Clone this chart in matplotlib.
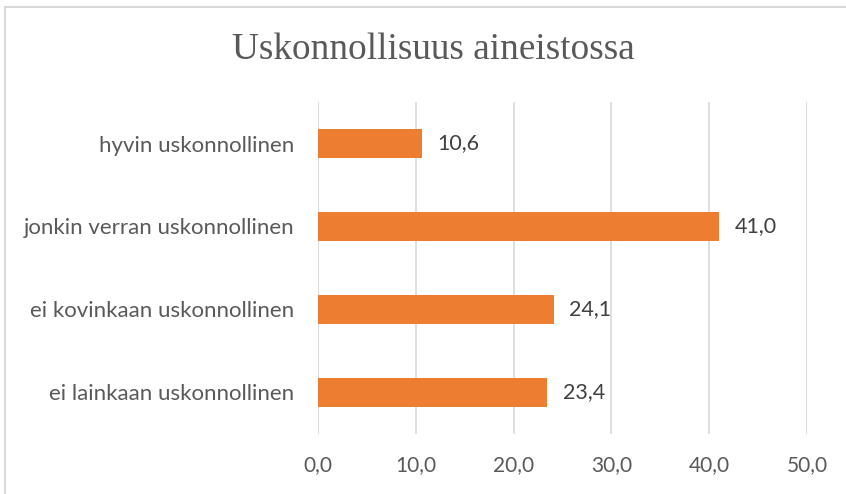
import matplotlib.pyplot as plt
from matplotlib.lines import Line2D

# data (bottom to top)
categories = ['ei lainkaan uskonnollinen', 'ei kovinkaan uskonnollinen',
              'jonkin verran uskonnollinen', 'hyvin uskonnollinen']
values = [23.4, 24.1, 41.0, 10.6]
xticks = [0, 10, 20, 30, 40, 50]

bar_color = '#ED7D31'
text_color = '#595959'
sans = ['Lato', 'DejaVu Sans']

fig = plt.figure(figsize=(8.46, 4.94), dpi=100)
ax = fig.add_axes([0.3759, 0.1215, 0.578, 0.672])

ypos = list(range(len(categories)))
ax.barh(ypos, values, height=0.36, color=bar_color, zorder=3)

for y, v in zip(ypos, values):
    ax.text(v + 1.6, y, f'{v:.1f}'.replace('.', ','), va='center', ha='left',
            fontsize=15.5, color='#404040', family=sans)

ax.set_xlim(0, 50)
ax.set_ylim(-0.5, 3.5)
ax.set_xticks(xticks)
ax.set_xticklabels([f'{t:.1f}'.replace('.', ',') for t in xticks],
                   fontsize=15, color=text_color, family=sans)
ax.set_yticks(ypos)
ax.set_yticklabels(categories, fontsize=16, color=text_color, family=sans)
ax.tick_params(axis='both', length=0)
ax.tick_params(axis='x', pad=15)
ax.tick_params(axis='y', pad=17)

ax.grid(axis='x', color='#D9D9D9', linewidth=1.2, zorder=0)
for s in ax.spines.values():
    s.set_visible(False)

fig.text(0.512, 0.899, 'Uskonnollisuus aineistossa', ha='center', va='center',
         fontsize=26.8, color=text_color, family='Liberation Serif')

# chart border (top and left visible)
fig.add_artist(Line2D([0.0065, 1.0], [0.9868, 0.9868], color='#D9D9D9', lw=1.5))
fig.add_artist(Line2D([0.0065, 0.0065], [0.0, 0.9868], color='#D9D9D9', lw=1.5))

fig.savefig('out.png', dpi=100)
